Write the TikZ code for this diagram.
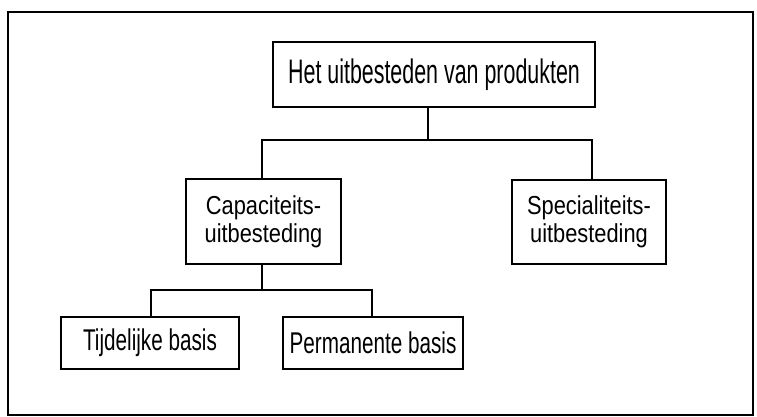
\documentclass[tikz,border=0pt]{standalone}
\usepackage{fontspec}
\newfontfamily\toplabel[FakeStretch=0.63]{Liberation Sans}
\newfontfamily\midlabel[FakeStretch=0.84]{Liberation Sans}
\newfontfamily\lowlabel[FakeStretch=0.69]{Liberation Sans}
\begin{document}
\begin{tikzpicture}[x=1pt,y=-1pt,
  box/.style={draw,line width=1.8pt,inner sep=0pt,align=center},
  link/.style={line width=1.4pt},
  frame/.style={line width=2.6pt}]
\useasboundingbox (0,0) rectangle (757,417);
\draw[frame] (8,12) rectangle (753,415);

% boxes of the tree
\node[box,minimum width=322pt,minimum height=65pt,
  font=\toplabel\fontsize{34}{36}\selectfont] (top) at (434,74.5)
  {Het uitbesteden van produkten};
\node[box,minimum width=155pt,minimum height=85pt,
  font=\midlabel\fontsize{26}{28}\selectfont] (cap) at (263.5,221.5)
  {Capaciteits-\\uitbesteding};
\node[box,minimum width=154pt,minimum height=84pt,
  font=\midlabel\fontsize{26}{28}\selectfont] (spec) at (589,222)
  {Specialiteits-\\uitbesteding};
\node[box,minimum width=178pt,minimum height=52pt,
  font=\lowlabel\fontsize{30}{32}\selectfont] (tijd) at (150,343)
  {Tijdelijke basis};
\node[box,minimum width=180pt,minimum height=52pt,
  font=\lowlabel\fontsize{30}{32}\selectfont] (perm) at (373,343)
  {Permanente basis};

% junctions of the connectors
\coordinate (j1) at (428,140);
\coordinate (j1l) at (262,140);
\coordinate (j1r) at (592,140);
\coordinate (j2) at (262,290);
\coordinate (j2l) at (151,290);
\coordinate (j2r) at (372,290);

\draw[link] (top.south -| j1) -- (j1);
\draw[link] (cap.north -| j1l) -- (j1l) -- (j1r) -- (spec.north -| j1r);
\draw[link] (cap.south -| j2) -- (j2);
\draw[link] (tijd.north -| j2l) -- (j2l) -- (j2r) -- (perm.north -| j2r);
\end{tikzpicture}
\end{document}
